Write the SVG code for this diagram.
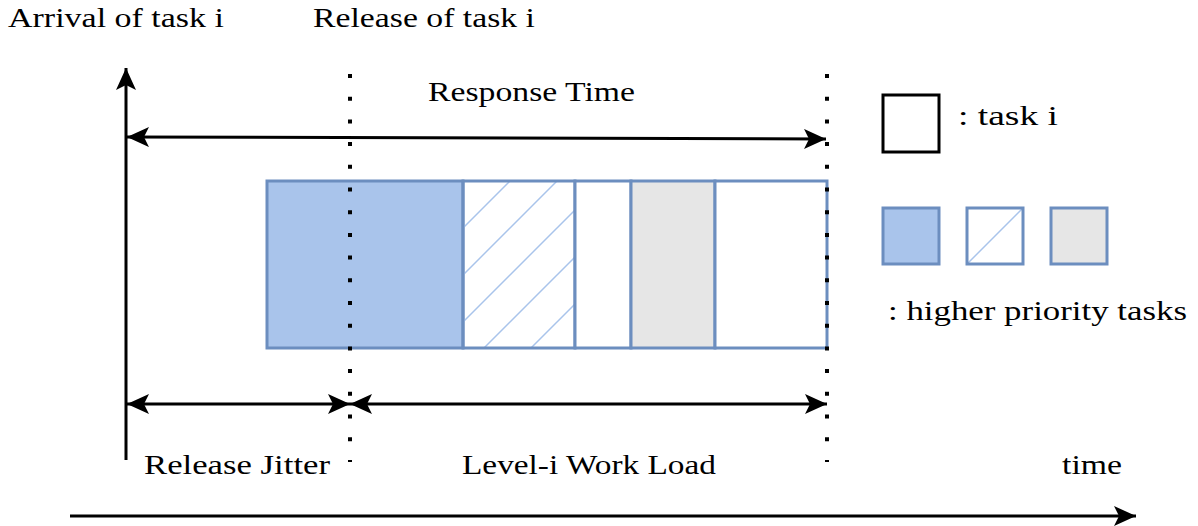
<svg xmlns="http://www.w3.org/2000/svg" width="1198" height="526" viewBox="0 0 1198 526">
<style>
.ln{stroke:#000;stroke-width:3;fill:none}
.dot{stroke:#000;stroke-width:4;stroke-dasharray:4 18.7;fill:none}
.blk{stroke:#6c8ebf;stroke-width:3}
.t{font-family:'Liberation Serif','Times New Roman',serif;font-size:27px;fill:#000}
</style>
<defs>
<marker id="ah" markerUnits="userSpaceOnUse" markerWidth="24" markerHeight="20" viewBox="0 0 24 20" refX="22" refY="10" orient="auto-start-reverse">
<path d="M0,0 L22,10 L0,20 L5,10 Z" fill="#000"/>
</marker>
<pattern id="hatch" patternUnits="userSpaceOnUse" width="47" height="47" x="463" y="181">
<path d="M-10,57 L57,-10 M-10,10 L10,-10 M37,57 L57,37" stroke="#a9c4eb" stroke-width="1.5"/>
</pattern>
<pattern id="hatch2" patternUnits="userSpaceOnUse" width="56" height="56" x="967" y="208">
<path d="M-10,66 L66,-10 M-10,10 L10,-10 M46,66 L66,46" stroke="#a9c4eb" stroke-width="1.5"/>
</pattern>
</defs>
<g id="blocks">
<rect x="267" y="181" width="196" height="167" fill="#a9c4eb" class="blk"/>
<rect x="463" y="181" width="112" height="167" fill="url(#hatch)" class="blk"/>
<rect x="575" y="181" width="56" height="167" fill="#fff" class="blk"/>
<rect x="631" y="181" width="84" height="167" fill="#e6e6e6" class="blk"/>
<rect x="715" y="181" width="112" height="167" fill="#fff" class="blk"/>
</g>
<g id="legend">
<rect x="883" y="95" width="56" height="57" fill="#fff" stroke="#000" stroke-width="3"/>
<text class="t" x="958" y="125" textLength="100" lengthAdjust="spacingAndGlyphs">: task i</text>
<rect x="883" y="208" width="56" height="56" fill="#a9c4eb" class="blk"/>
<rect x="967" y="208" width="56" height="56" fill="url(#hatch2)" class="blk"/>
<rect x="1051" y="208" width="56" height="56" fill="#e6e6e6" class="blk"/>
<text class="t" x="888" y="320" textLength="299" lengthAdjust="spacingAndGlyphs">: higher priority tasks</text>
</g>
<g id="labels">
<text class="t" x="8" y="27" textLength="216" lengthAdjust="spacingAndGlyphs">Arrival of task i</text>
<text class="t" x="313" y="27" textLength="222" lengthAdjust="spacingAndGlyphs">Release of task i</text>
<text class="t" x="428" y="101" textLength="207" lengthAdjust="spacingAndGlyphs">Response Time</text>
<text class="t" x="144" y="474" textLength="186" lengthAdjust="spacingAndGlyphs">Release Jitter</text>
<text class="t" x="462" y="474" textLength="254" lengthAdjust="spacingAndGlyphs">Level-i Work Load</text>
<text class="t" x="1062" y="474" textLength="60" lengthAdjust="spacingAndGlyphs">time</text>
</g>
<g id="connectors">
<line class="dot" x1="350" y1="74" x2="350" y2="462"/>
<line class="dot" x1="827" y1="74" x2="827" y2="462"/>
<line class="ln" x1="126" y1="460" x2="126" y2="68" marker-end="url(#ah)"/>
<line class="ln" x1="127" y1="137" x2="826" y2="139" marker-start="url(#ah)" marker-end="url(#ah)"/>
<line class="ln" x1="127" y1="404" x2="350" y2="404" marker-start="url(#ah)" marker-end="url(#ah)"/>
<line class="ln" x1="350" y1="404" x2="827" y2="404" marker-start="url(#ah)" marker-end="url(#ah)"/>
<line class="ln" x1="70" y1="516" x2="1136" y2="516" marker-end="url(#ah)"/>
</g>
</svg>
